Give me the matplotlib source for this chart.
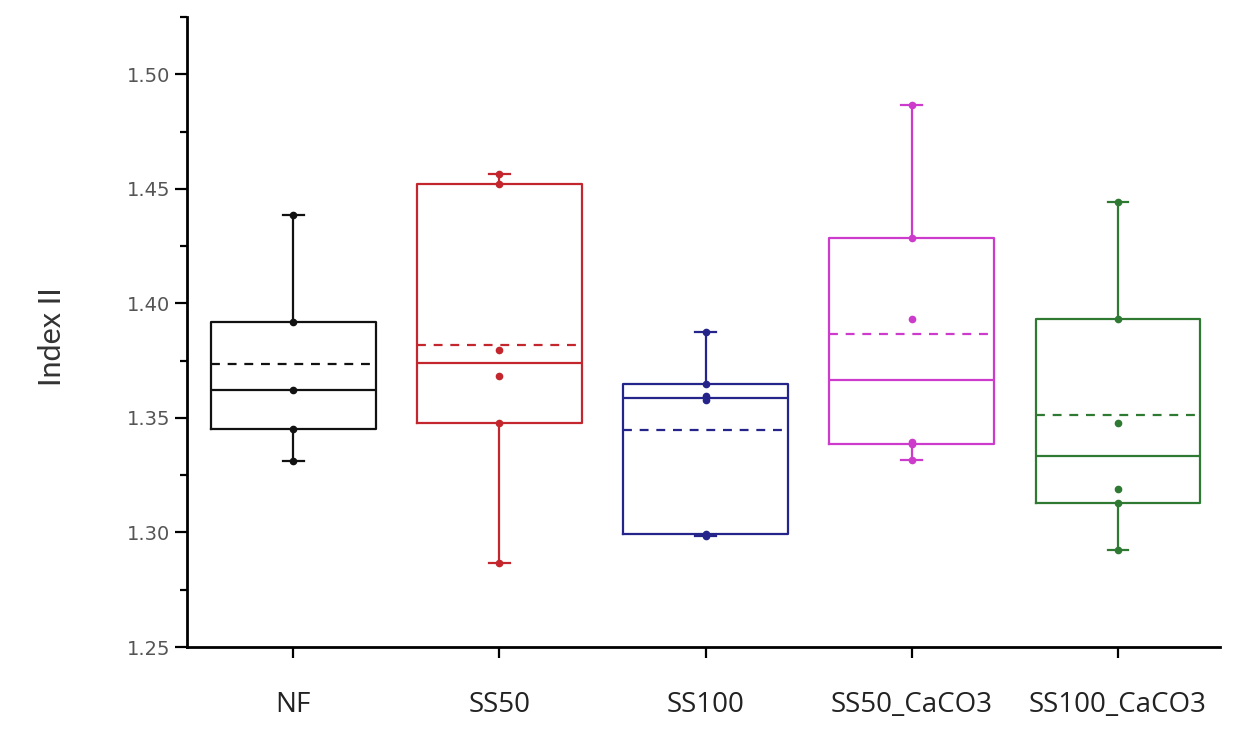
import numpy as np
import matplotlib.pyplot as plt
from matplotlib import cbook
from matplotlib.ticker import MultipleLocator

groups = ["NF", "SS50", "SS100", "SS50_CaCO3", "SS100_CaCO3"]
nf = [1.331, 1.345, 1.362, 1.392, 1.4386]
ss50 = [1.2865, 1.3478, 1.3685, 1.3795, 1.4522, 1.4565]
ss100 = [1.2985, 1.2995, 1.358, 1.3595, 1.365, 1.3875]
ss50_caco3 = [1.3316, 1.3388, 1.3395, 1.3933, 1.4287, 1.4868]
ss100_caco3 = [1.2923, 1.3127, 1.3191, 1.3476, 1.393, 1.4442]
colors = ["#111111", "#C4262E", "#24248A", "#CC3BCC", "#2F7A32"]

data = [nf, ss50, ss100, ss50_caco3, ss100_caco3]
positions = np.arange(1, len(groups) + 1)

# box = nearest-rank quartiles, whiskers = min/max
stats = cbook.boxplot_stats(data, whis=(0, 100))
for s, d in zip(stats, data):
    s["q1"], s["q3"] = np.percentile(d, [25, 75], method="nearest")

fig = plt.figure(figsize=(12.57, 7.31), dpi=100)
ax = fig.add_axes([0.1488, 0.1149, 0.8218, 0.8618])

bp = ax.bxp(stats, positions=positions, widths=0.8, capwidths=0.1,
            showmeans=True, meanline=True, showfliers=False)

for i, c in enumerate(colors):
    bp["boxes"][i].set(color=c, linewidth=1.6)
    bp["medians"][i].set(color=c, linewidth=1.6)
    bp["means"][i].set(color=c, linewidth=1.6, linestyle=(0, (4, 3.5)))
    for k in (2 * i, 2 * i + 1):
        bp["whiskers"][k].set(color=c, linewidth=1.6)
        bp["caps"][k].set(color=c, linewidth=1.6)
    ax.plot(np.full(len(data[i]), positions[i]), data[i], "o", ms=4.5,
            color=c, zorder=3)

ax.set_xlim(0.485, 5.495)
ax.set_ylim(1.25, 1.525)
ax.yaxis.set_major_locator(MultipleLocator(0.05))
ax.yaxis.set_minor_locator(MultipleLocator(0.025))
ax.set_xticks(positions)
ax.set_xticklabels(groups, fontsize=20, family=["Open Sans", "DejaVu Sans"],
                   color="#222222")
ax.set_yticks([1.25, 1.30, 1.35, 1.40, 1.45, 1.50])
ax.set_yticklabels(["1.25", "1.30", "1.35", "1.40", "1.45", "1.50"],
                   fontsize=14, color="#555555",
                   family=["Liberation Sans Narrow", "DejaVu Sans"])

ax.spines["top"].set_visible(False)
ax.spines["right"].set_visible(False)
ax.spines["left"].set_linewidth(2)
ax.spines["bottom"].set_linewidth(2)
ax.tick_params(axis="y", which="major", direction="out", length=9, width=1.6, pad=3)
ax.tick_params(axis="y", which="minor", direction="out", length=5, width=1.6)
ax.tick_params(axis="x", which="major", direction="out", length=8, width=1.6, pad=24)

ax.set_ylabel("Index II", fontsize=22, family=["Lato", "DejaVu Sans"],
              color="#333333")
ax.yaxis.set_label_coords(-0.117, 0.492)

fig.savefig("out.png", dpi=100)
